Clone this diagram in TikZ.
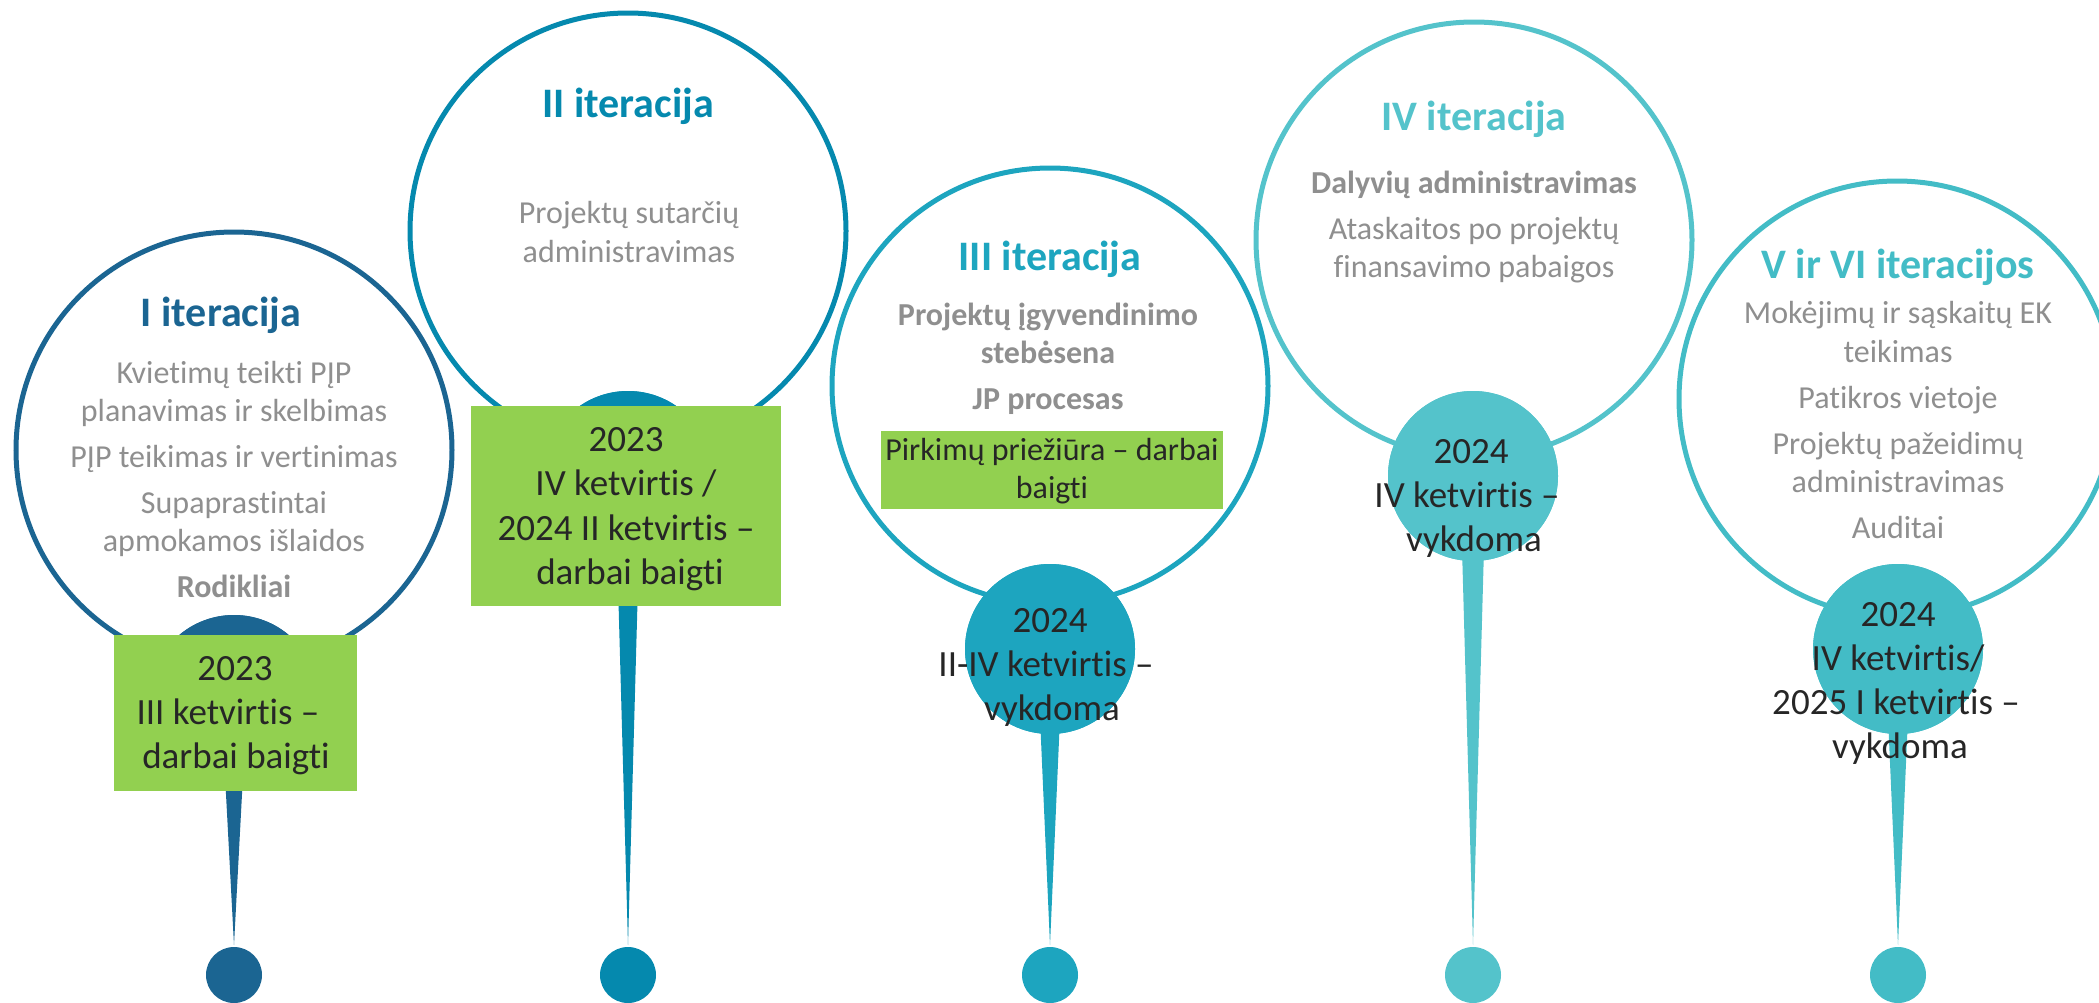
\documentclass[tikz,border=0pt]{standalone}
\usepackage{fontspec}
\setmainfont{Carlito}[Ligatures={NoCommon,NoContextual}]
\definecolor{cA}{HTML}{1B6592}
\definecolor{cB}{HTML}{0589AE}
\definecolor{cC}{HTML}{1DA5BF}
\definecolor{cD}{HTML}{54C3CB}
\definecolor{cE}{HTML}{43BCC6}
\definecolor{grayt}{HTML}{8F8F8F}
\definecolor{datet}{HTML}{262626}
\definecolor{grn}{HTML}{92D050}
\tikzset{
  big/.style={circle, draw=#1, line width=5pt, fill=white, minimum size=436pt, inner sep=0pt},
  head/.style={circle, fill=#1, minimum size=170pt, inner sep=0pt},
  dotn/.style={circle, fill=#1, minimum size=56pt, inner sep=0pt},
  ttl/.style={anchor=base, inner sep=0pt, text=#1, font=\fontsize{42}{50}\selectfont\bfseries},
  gl/.style={anchor=base, inner sep=0pt, text=grayt, font=\fontsize{32}{38}\selectfont},
  gb/.style={anchor=base, inner sep=0pt, text=grayt, font=\fontsize{32}{38}\selectfont\bfseries},
  dl/.style={anchor=base, inner sep=0pt, text=datet, font=\fontsize{37}{44}\selectfont},
  sl/.style={anchor=base, inner sep=0pt, text=datet, font=\fontsize{32}{38}\selectfont},
  gbox/.style={fill=grn, inner sep=0pt},
}
\begin{document}
\begin{tikzpicture}[x=1pt,y=-1pt]
\path[use as bounding box] (0,0) rectangle (2099,1002);
\clip (0,0) rectangle (2099,1002);
% big circles
\node[big=cA] (k1) at (234,450) {};
\node[big=cB] (k2) at (628,231) {};
\node[big=cC] (k3) at (1050,386) {};
\node[big=cD] (k4) at (1474,240) {};
\node[big=cE] (k5) at (1897,399) {};
% heads
\node[head=cA] (h1) at (234,700) {};
\node[head=cB] (h2) at (628,476) {};
\node[head=cC] (h3) at (1050,649) {};
\node[head=cD] (h4) at (1473,476) {};
\node[head=cE] (h5) at (1898,649) {};
% tips and dots
\coordinate (t1) at (234,945);
\coordinate (t2) at (628,945);
\coordinate (t3) at (1050,945);
\coordinate (t4) at (1473,945);
\coordinate (t5) at (1898,945);
\fill[cA] ([xshift=-13pt]h1.center) -- ([xshift=13pt]h1.center) -- (t1) -- cycle;
\fill[cB] ([xshift=-13pt]h2.center) -- ([xshift=13pt]h2.center) -- (t2) -- cycle;
\fill[cC] ([xshift=-13pt]h3.center) -- ([xshift=13pt]h3.center) -- (t3) -- cycle;
\fill[cD] ([xshift=-13pt]h4.center) -- ([xshift=13pt]h4.center) -- (t4) -- cycle;
\fill[cE] ([xshift=-13pt]h5.center) -- ([xshift=13pt]h5.center) -- (t5) -- cycle;
\node[head=cA] at (h1.center) {};
\node[head=cB] at (h2.center) {};
\node[head=cC] at (h3.center) {};
\node[head=cD] at (h4.center) {};
\node[head=cE] at (h5.center) {};
\node[dotn=cA] (d1) at (234,975) {};
\node[dotn=cB] (d2) at (628,975) {};
\node[dotn=cC] (d3) at (1050,975) {};
\node[dotn=cD] (d4) at (1473,975) {};
\node[dotn=cE] (d5) at (1898,975) {};
% green boxes
\node[gbox, minimum width=243pt, minimum height=156pt] (b1) at (235.5,713) {};
\node[gbox, minimum width=310pt, minimum height=200pt] (b2) at (626,506) {};
\node[gbox, minimum width=342pt, minimum height=78pt] (b3) at (1052,470) {};
% circle 1
\node[ttl=cA] (a0) at (221,326) {I iteracija};
\node[gl] (a1) at (234,383) {Kvietimų teikti PĮP};
\node[gl] (a2) at (234,421) {planavimas ir skelbimas};
\node[gl] (a3) at (234,467) {PĮP teikimas ir vertinimas};
\node[gl] (a4) at (234,513) {Supaprastintai};
\node[gl] (a5) at (234,551) {apmokamos išlaidos};
\node[gb] (a6) at (234,597) {Rodikliai};
\node[dl] (a7) at (235,680) {2023};
\node[dl] (a8) at (228,724) {III ketvirtis –};
\node[dl] (a9) at (236,768) {darbai baigti};
% circle 2
\node[ttl=cB] (e0) at (628,117) {II iteracija};
\node[gl] (e1) at (629,223) {Projektų sutarčių};
\node[gl] (e2) at (629,262) {administravimas};
\node[dl] (e3) at (626,451) {2023};
\node[dl] (e4) at (626,495) {IV ketvirtis /};
\node[dl] (e5) at (626,540) {2024 II ketvirtis –};
\node[dl] (e6) at (630,584) {darbai baigti};
% circle 3
\node[ttl=cC] (f0) at (1050,270) {III iteracija};
\node[gb] (f1) at (1048,325) {Projektų įgyvendinimo};
\node[gb] (f2) at (1048,363) {stebėsena};
\node[gb] (f3) at (1048,409) {JP procesas};
\node[sl] (f4) at (1052,460) {Pirkimų priežiūra – darbai};
\node[sl] (f5) at (1052,498) {baigti};
\node[dl] (f6) at (1050,632) {2024};
\node[dl] (f7) at (1046,676) {II-IV ketvirtis –};
\node[dl] (f8) at (1052,720) {vykdoma};
% circle 4
\node[ttl=cD] (g0) at (1474,130) {IV iteracija};
\node[gb] (g1) at (1474,193) {Dalyvių administravimas};
\node[gl] (g2) at (1474,239) {Ataskaitos po projektų};
\node[gl] (g3) at (1474,277) {finansavimo pabaigos};
\node[dl] (g4) at (1471,463) {2024};
\node[dl] (g5) at (1467,507) {IV ketvirtis –};
\node[dl] (g6) at (1474,551) {vykdoma};
% circle 5
\node[ttl=cE] (m0) at (1898,278) {V ir VI iteracijos};
\node[gl] (m1) at (1898,323) {Mokėjimų ir sąskaitų EK};
\node[gl] (m2) at (1898,362) {teikimas};
\node[gl] (m3) at (1898,408) {Patikros vietoje};
\node[gl] (m4) at (1898,454) {Projektų pažeidimų};
\node[gl] (m5) at (1898,492) {administravimas};
\node[gl] (m6) at (1898,538) {Auditai};
\node[dl] (m7) at (1898,626) {2024};
\node[dl] (m8) at (1898,670) {IV ketvirtis/};
\node[dl] (m9) at (1896,714) {2025 I ketvirtis –};
\node[dl] (m10) at (1900,758) {vykdoma};
\end{tikzpicture}
\end{document}
